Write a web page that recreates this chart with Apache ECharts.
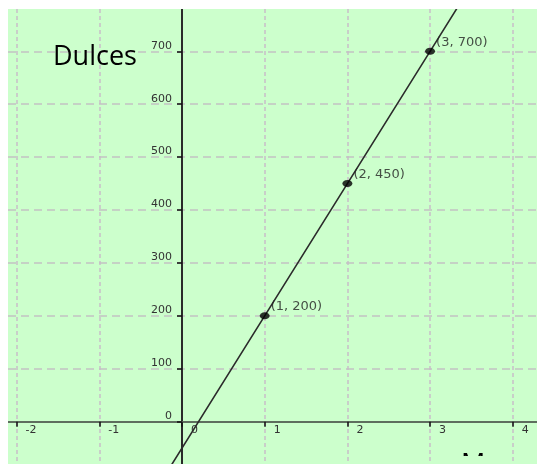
<!DOCTYPE html>
<html>
<head>
<meta charset="utf-8">
<script src="https://cdn.jsdelivr.net/npm/echarts@6/dist/echarts.min.js"></script>
<style>
  html, body { margin: 0; padding: 0; background: #fff; }
  #wrap { position: absolute; left: 8px; top: 9px; width: 529px; height: 455px; background: #ccffcc; overflow: hidden; }
  #chart { width: 529px; height: 455px; }
  /* el recorte de la imagen original tapa casi toda la letra de abajo */
  #tapa { position: absolute; left: 447px; top: 447px; width: 45px; height: 10px; background: #ccffcc; }
</style>
</head>
<body>
<div id="wrap"><div id="chart"></div><div id="tapa"></div></div>
<script>
  // puntos marcados
  var puntosX = [1, 2, 3]
  var puntosY = [200, 450, 700]
  var rectaX = [-0.2, 1, 2, 3, 3.4]
  var rectaY = [-100, 200, 450, 700, 800]
  // marcas de los ejes
  var marcasX = [-2, -1, 0, 1, 2, 3, 4]
  var marcasY = [0, 100, 200, 300, 400, 500, 600, 700]
  // parte visible del plano
  var xMin = -2.104, xMax = 4.293
  var yMin = -80, yMax = 780
  var tituloY = 'Dulces'
  var tituloX = 'M'

  var chart = echarts.init(document.getElementById('chart'))

  var labelFont = { fontFamily: 'DejaVu Sans', fontSize: 11, color: '#333' }

  chart.setOption({
    animation: false,
    grid: { left: 0, right: 0, top: 0, bottom: 0, outerBoundsMode: 'none' },
    xAxis: {
      type: 'value',
      min: xMin,
      max: xMax,
      position: 'bottom',
      offset: -42.3,   // el eje va en y = 0
      axisLine: { show: true, onZero: false, lineStyle: { color: '#5e6e5e', width: 2 } },
      axisTick: { show: true, length: 5, customValues: marcasX, lineStyle: { color: '#111', width: 1.5 } },
      axisLabel: Object.assign({ customValues: marcasX, align: 'left', margin: 3, padding: [0, 0, 0, 9] }, labelFont),
      splitLine: { show: true, lineStyle: { color: '#c8bec8', type: [4, 3], width: 1.5 } }
    },
    yAxis: {
      type: 'value',
      min: yMin,
      max: yMax,
      position: 'left',
      offset: -174,    // el eje va en x = 0
      axisLine: { show: true, onZero: false, lineStyle: { color: '#2a2a2a', width: 2 } },
      axisTick: { show: true, length: 5, customValues: marcasY, lineStyle: { color: '#111', width: 1.5 } },
      axisLabel: Object.assign({ customValues: marcasY, margin: 10, verticalAlign: 'bottom' }, labelFont),
      splitLine: { show: true, lineStyle: { color: '#c2c2c2', type: [8, 5], width: 1.5 } }
    },
    series: [
      {
        type: 'line',
        data: rectaX.map(function (x, i) { return [x, rectaY[i]] }),
        showSymbol: false,
        lineStyle: { color: '#2b2b2b', width: 1.6 },
        z: 3
      },
      {
        type: 'scatter',
        data: puntosX.map(function (x, i) { return [x, puntosY[i]] }),
        symbol: 'circle',
        symbolSize: [10, 7],
        itemStyle: { color: '#000' },
        label: {
          show: true,
          position: 'right',
          distance: 1,
          offset: [0, -9],
          formatter: function (p) { return '(' + p.value[0] + ', ' + p.value[1] + ')' },
          fontFamily: 'DejaVu Sans',
          fontSize: 13,
          color: '#222'
        },
        z: 4
      }
    ],
    graphic: [
      {
        type: 'text',
        x: 45,
        y: 48.5,
        style: { text: tituloY, fontFamily: 'Open Sans', fontSize: 27, fill: '#000', verticalAlign: 'middle' },
        z: 10
      },
      {
        type: 'text',
        x: 453,
        y: 456.8,
        style: { text: tituloX, fontFamily: 'Open Sans', fontSize: 27, fill: '#000', verticalAlign: 'middle' },
        z: 10
      }
    ]
  })
</script>
</body>
</html>
